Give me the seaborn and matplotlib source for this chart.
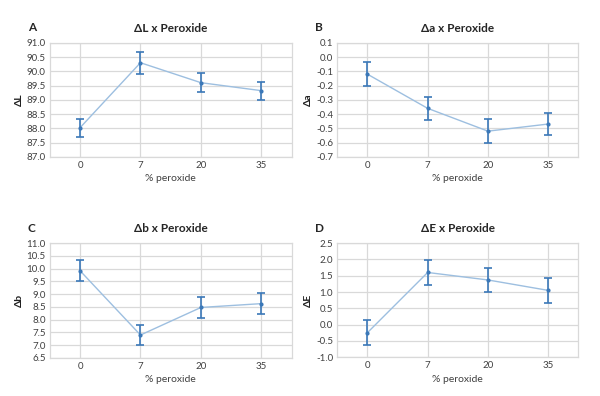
import numpy as np
import pandas as pd
import matplotlib
matplotlib.use('Agg')
import matplotlib.pyplot as plt
import seaborn as sns

sns.set_style('white')
plt.rcParams['font.family'] = ['Lato', 'DejaVu Sans']

peroxide = ['0', '7', '20', '35']

dL = [88.02, 90.30, 89.60, 89.32]
dL_err = [0.32, 0.38, 0.33, 0.32]
da = [-0.12, -0.36, -0.52, -0.47]
da_err = [0.085, 0.08, 0.085, 0.08]
db = [9.92, 7.40, 8.48, 8.63]
db_err = [0.40, 0.40, 0.42, 0.41]
dE = [-0.25, 1.60, 1.37, 1.05]
dE_err = [0.38, 0.38, 0.37, 0.38]

panels = [
    ('A', '\u0394L x Peroxide', '\u0394L', dL, dL_err, (87.0, 91.0), 0.5),
    ('B', '\u0394a x Peroxide', '\u0394a', da, da_err, (-0.7, 0.1), 0.1),
    ('C', '\u0394b x Peroxide', '\u0394b', db, db_err, (6.5, 11.0), 0.5),
    ('D', '\u0394E x Peroxide', '\u0394E', dE, dE_err, (-1.0, 2.5), 0.5),
]

# axes boxes in figure fractions (left, bottom, width, height)
boxes = [
    (0.083, 0.604, 0.403, 0.288),
    (0.562, 0.604, 0.402, 0.288),
    (0.083, 0.096, 0.403, 0.290),
    (0.562, 0.098, 0.402, 0.288),
]

line_col = '#9dbfe0'
err_col = '#3b78b8'
grid_col = '#d9d9d9'


def fmt1(v, _):
    v = round(v, 1)
    if v == 0:
        v = 0.0
    return f'{v:.1f}'


fig = plt.figure(figsize=(6, 3.96), dpi=100)

for (letter, title, ylab, vals, errs, ylim, step), box in zip(panels, boxes):
    ax = fig.add_axes(box)
    df = pd.DataFrame({'pos': np.arange(len(peroxide)), 'val': vals, 'err': errs})
    sns.lineplot(data=df, x='pos', y='val', ax=ax, color=line_col, lw=1,
                 marker='o', markersize=3, markeredgewidth=0,
                 markerfacecolor=err_col, zorder=3)
    ax.errorbar(df['pos'], df['val'], yerr=df['err'], fmt='none',
                ecolor=err_col, elinewidth=1.2, capsize=3, capthick=1.2, zorder=4)
    ax.set_xlim(-0.5, len(peroxide) - 0.5)
    ax.set_ylim(*ylim)
    ax.set_xticks(df['pos'])
    ax.set_xticklabels(peroxide)
    ax.set_yticks(np.arange(ylim[0], ylim[1] + step / 2, step))
    ax.yaxis.set_major_formatter(matplotlib.ticker.FuncFormatter(fmt1))
    ax.grid(True, color=grid_col, lw=0.9)
    ax.set_axisbelow(True)
    for s in ax.spines.values():
        s.set_color(grid_col)
        s.set_linewidth(0.9)
    ax.tick_params(axis='both', length=0, labelsize=7, colors='#404040', pad=3)
    ax.set_xlabel('% peroxide', fontsize=7.5, color='#404040', labelpad=3)
    ax.set_ylabel(ylab, fontsize=7.5, color='#202020', fontweight='bold', labelpad=2)
    ax.set_title(title, fontsize=8.5, fontweight='bold', pad=8)
    ax.text(-0.075, 1.13, letter, transform=ax.transAxes, fontsize=8.5,
            fontweight='bold', ha='center', va='center')

fig.savefig('out.png', dpi=100, facecolor='white')
